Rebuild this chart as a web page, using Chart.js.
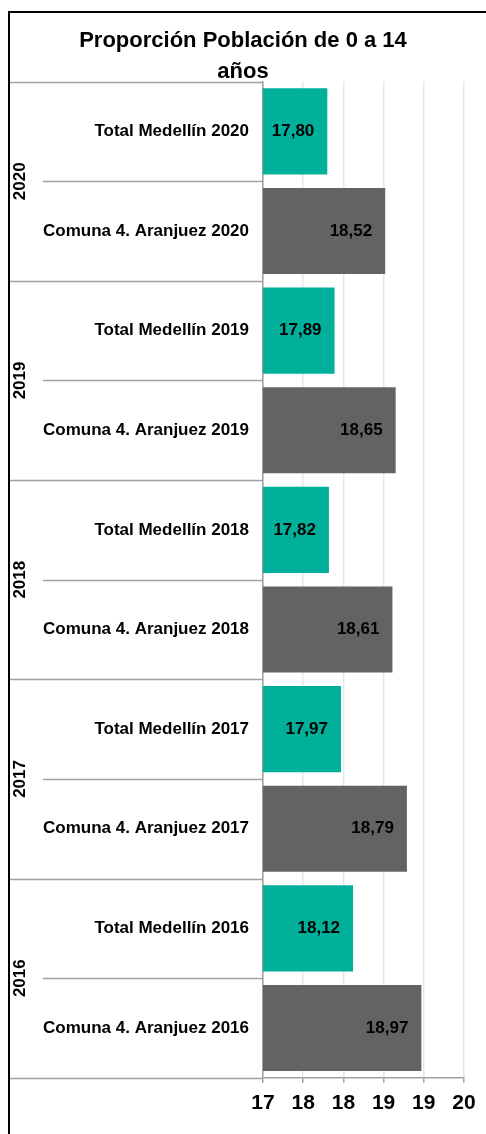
<!DOCTYPE html>
<html lang="es">
<head>
    <meta charset="UTF-8">
    <title>Proporción Población de 0 a 14 años</title>
    <script src="https://cdn.jsdelivr.net/npm/chart.js"></script>
    <style>
        body { margin: 0; background: #fff; overflow: hidden; }
        #wrap { position: relative; width: 486px; height: 1134px; }
        #frame { position: absolute; left: 8px; top: 11px; width: 600px; height: 1200px;
                 border-left: 2px solid #000; border-top: 2px solid #000; pointer-events: none; }
    </style>
</head>
<body>
<div id="wrap">
    <canvas id="grafico" width="486" height="1134"></canvas>
    <div id="frame"></div>
</div>
<script>
// datos
const years = ['2020', '2019', '2018', '2017', '2016'];
const rowNames = ['Total Medellín', 'Comuna 4. Aranjuez'];
const medellin = [17.80, 17.89, 17.82, 17.97, 18.12];
const aranjuez = [18.52, 18.65, 18.61, 18.79, 18.97];
const xTicks = [17, 17.5, 18, 18.5, 19, 19.5];

const TEAL = '#00b09b';
const GRIS = '#636365';
const FONT = "'Liberation Sans', Arial, sans-serif";

// una fila por serie y año (Medellín arriba, Aranjuez abajo)
let labels = [], values = [], colors = [];
years.forEach((y, i) => {
    labels.push(rowNames[0] + ' ' + y); values.push(medellin[i]); colors.push(TEAL);
    labels.push(rowNames[1] + ' ' + y); values.push(aranjuez[i]); colors.push(GRIS);
});

// etiquetas de valor dentro del extremo de cada barra
const valueLabels = {
    id: 'valueLabels',
    afterDatasetsDraw(chart) {
        const ctx = chart.ctx;
        const meta = chart.getDatasetMeta(0);
        ctx.save();
        ctx.font = 'bold 17px ' + FONT;
        ctx.fillStyle = '#000';
        ctx.textAlign = 'right';
        ctx.textBaseline = 'middle';
        meta.data.forEach((bar, i) => {
            ctx.fillText(values[i].toFixed(2).replace('.', ','), bar.x - 13, bar.y);
        });
        ctx.restore();
    }
};

// líneas separadoras y años rotados del eje de categorías
const groupAxis = {
    id: 'groupAxis',
    afterDraw(chart) {
        const ctx = chart.ctx;
        const ys = chart.scales.y;
        const left = chart.chartArea.left;
        ctx.save();
        ctx.strokeStyle = '#a0a0a0';
        ctx.lineWidth = 1.5;
        for (let k = 0; k <= labels.length; k++) {
            const py = Math.round(ys.getPixelForValue(k - 0.5)) + 0.5;
            ctx.beginPath();
            ctx.moveTo(k % 2 === 0 ? 9 : 43, py);
            ctx.lineTo(left, py);
            ctx.stroke();
        }
        ctx.fillStyle = '#000';
        ctx.font = 'bold 17px ' + FONT;
        ctx.textAlign = 'center';
        ctx.textBaseline = 'middle';
        years.forEach((y, i) => {
            const cy = ys.getPixelForValue(i * 2 + 0.5);
            ctx.save();
            ctx.translate(20, cy);
            ctx.rotate(-Math.PI / 2);
            ctx.fillText(y, 0, 0);
            ctx.restore();
        });
        ctx.restore();
    }
};

new Chart(document.getElementById('grafico'), {
    type: 'bar',
    data: {
        labels: labels,
        datasets: [{
            data: values,
            backgroundColor: colors,
            borderWidth: 0,
            categoryPercentage: 1,
            barPercentage: 0.865
        }]
    },
    options: {
        indexAxis: 'y',
        responsive: false,
        animation: false,
        layout: { padding: { left: 22, right: 22, top: 0, bottom: 10 } },
        plugins: {
            legend: { display: false },
            tooltip: { enabled: false },
            title: {
                display: true,
                text: ['Proporción Población de 0 a 14', 'años'],
                color: '#000',
                font: { family: FONT, size: 22, weight: 'bold', lineHeight: 1.4 },
                padding: { top: 26, bottom: -6 }
            }
        },
        scales: {
            x: {
                type: 'linear',
                min: xTicks[0],
                max: xTicks[xTicks.length - 1],
                afterBuildTicks: s => { s.ticks = xTicks.map(v => ({ value: v })); },
                grid: { color: '#dde9ee', lineWidth: 1.5, tickColor: '#a0a0a0', tickLength: 5 },
                border: { display: true, color: '#a0a0a0', width: 1.5 },
                ticks: {
                    color: '#000',
                    padding: 8,
                    maxRotation: 0,
                    font: { family: FONT, size: 21, weight: 'bold' },
                    callback: v => Math.round(v)
                }
            },
            y: {
                grid: { display: false },
                border: { display: true, color: '#a0a0a0', width: 1.5 },
                afterFit: s => { s.width = 241; },
                ticks: {
                    color: '#000',
                    padding: 6,
                    font: { family: FONT, size: 17, weight: 'bold' }
                }
            }
        }
    },
    plugins: [valueLabels, groupAxis]
});
</script>
</body>
</html>
